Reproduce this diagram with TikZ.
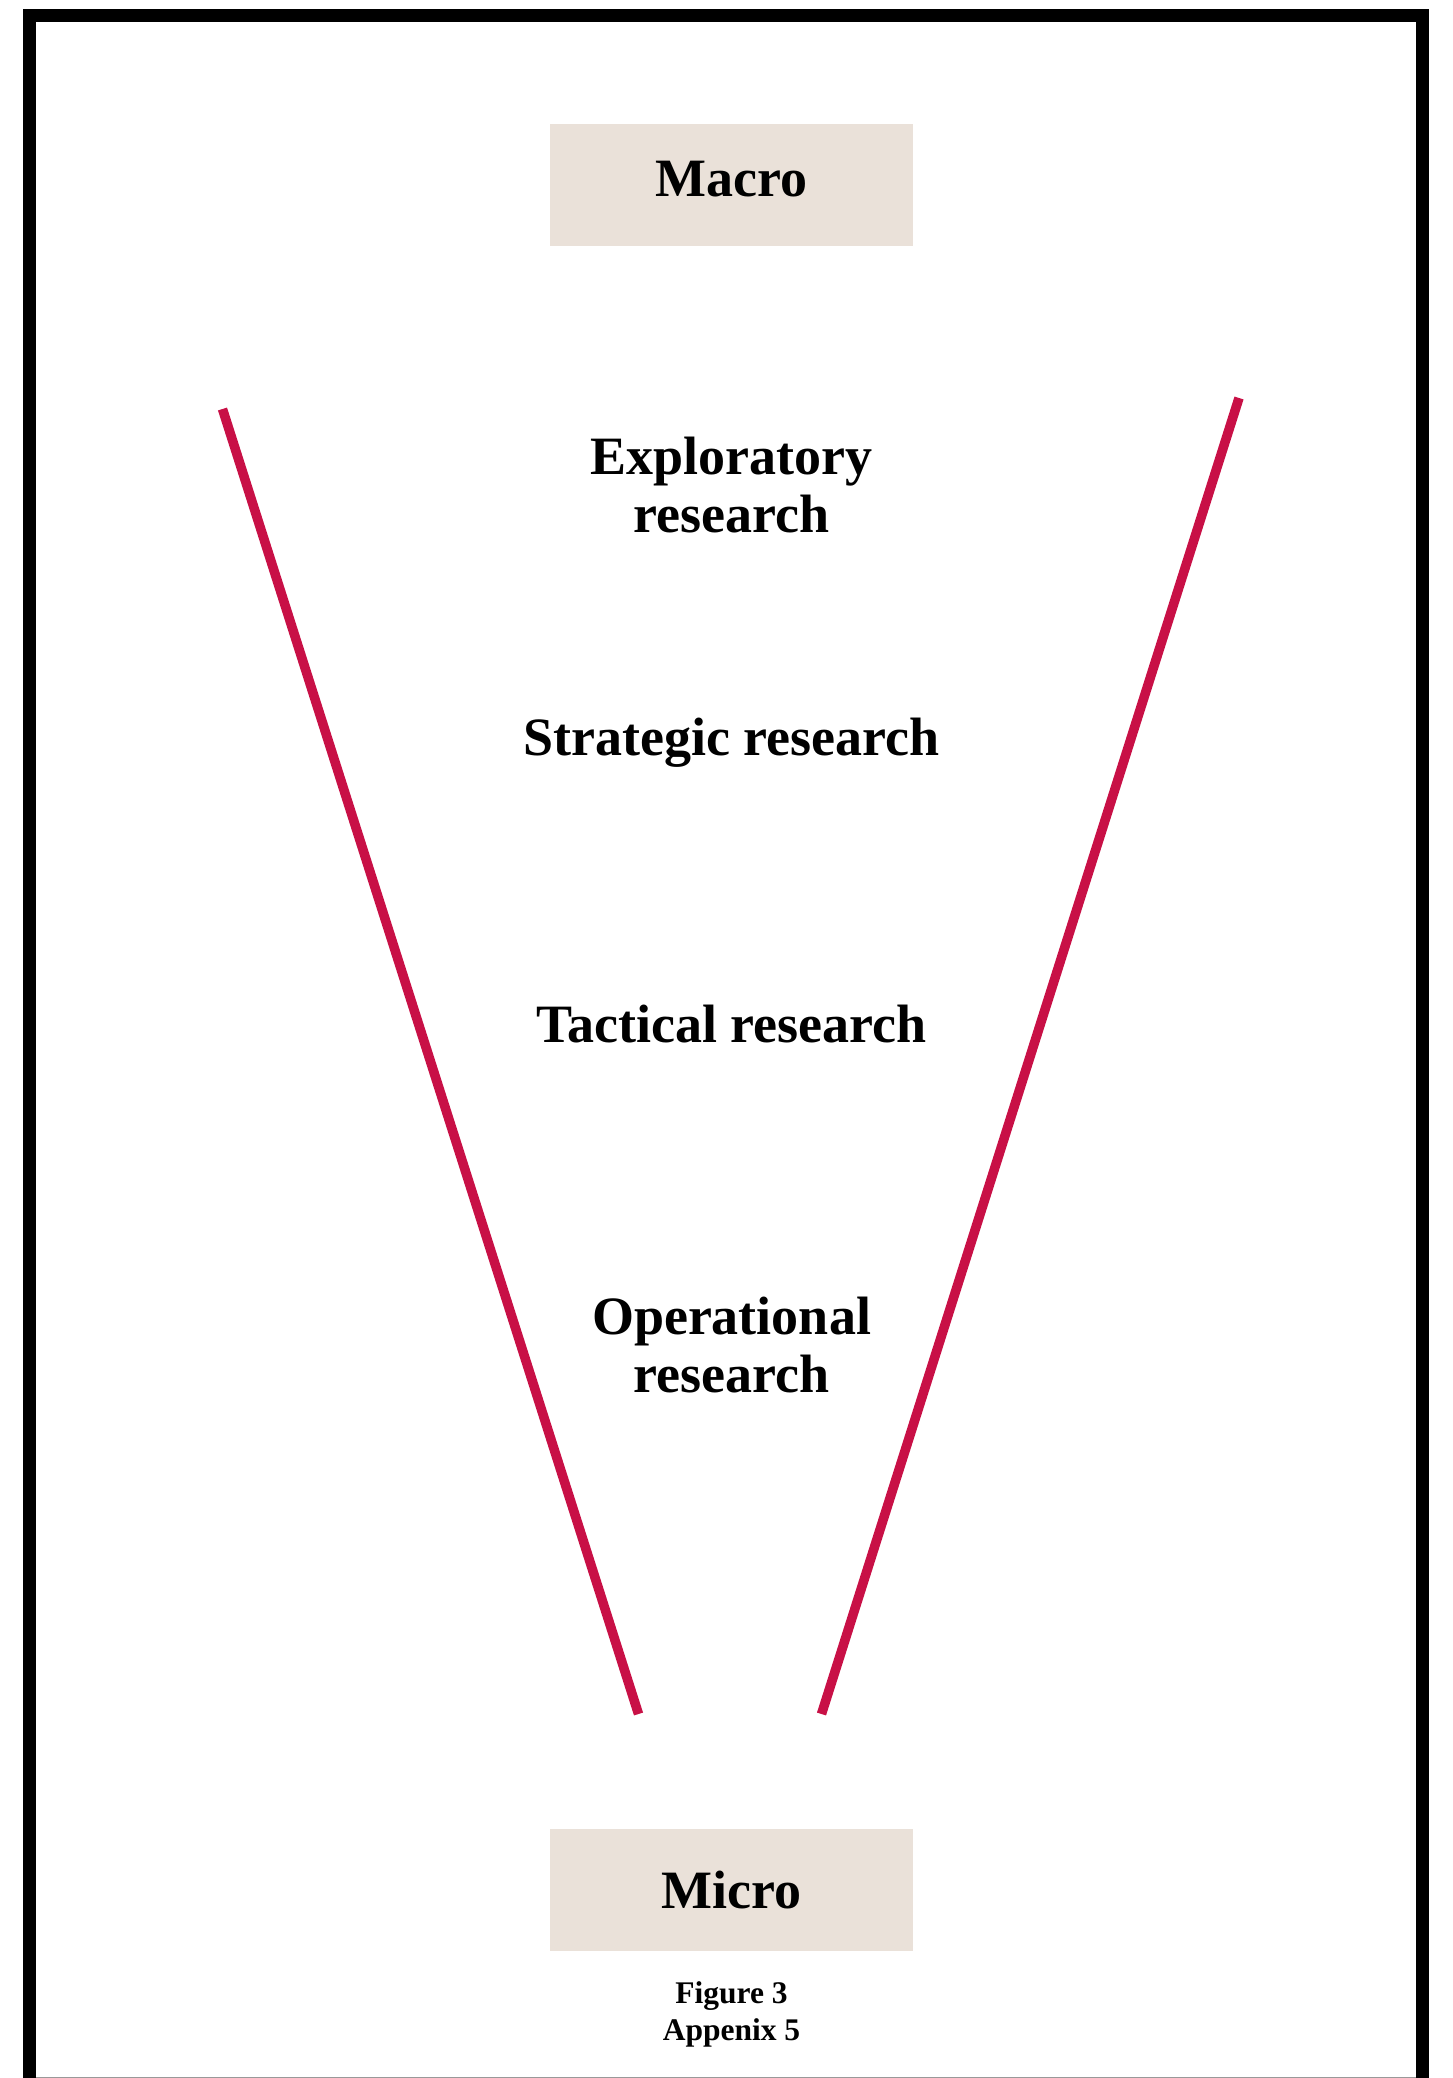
\documentclass[tikz,border=0pt]{standalone}
\usepackage{fontspec}
\setmainfont{Liberation Serif}
\definecolor{funnel}{RGB}{200,16,70}
\definecolor{boxfill}{RGB}{234,225,217}
\begin{document}
\begin{tikzpicture}[x=0.5pt,y=-0.5pt,
  levelbox/.style={fill=boxfill, minimum width=181.5pt, minimum height=61pt,
    inner sep=0pt, text height=20pt, text depth=8.5pt,
    font=\fontsize{27}{29}\selectfont\bfseries},
  level/.style={align=center, anchor=base, inner sep=0pt,
    font=\fontsize{27}{29}\selectfont\bfseries},
  funnelside/.style={draw=funnel, line width=4.75pt},
  caption/.style={align=center, anchor=base, inner sep=0pt,
    font=\fontsize{15.75}{18.5}\selectfont\bfseries}]
\useasboundingbox (0,0) rectangle (1452,2078);

% page frame: open at the bottom edge
\begin{scope}
  \clip (0,0) rectangle (1452,2078);
  \draw[line width=6.5pt] (29.5,2100) -- (29.5,15.5) -- (1422.5,15.5) -- (1422.5,2100);
\end{scope}
\draw[black!40, line width=0.75pt] (36,2077.4) -- (1416,2077.4);

% end boxes
\node[levelbox] (macro) at (731.5,184.5) {Macro};
\node[levelbox, text height=22pt, text depth=4pt] (micro) at (731.5,1890.3) {Micro};

% research levels (base anchor sits on the last line)
\node[level] (explor) at (731.5,532) {Exploratory\\research};
\node[level] (strat) at (731.5,755) {Strategic research};
\node[level] (tact) at (731.5,1042) {Tactical research};
\node[level] (oper) at (731.5,1392) {Operational\\research};

% funnel sides
\coordinate (ltop) at (222.5,409);
\coordinate (lbot) at (638.5,1714);
\coordinate (rtop) at (1239,398);
\coordinate (rbot) at (821.5,1714);
\draw[funnelside] (ltop) -- (lbot);
\draw[funnelside] (rtop) -- (rbot);

% caption
\node[caption] (cap) at (731.5,2040) {Figure 3\\Appenix 5};
\end{tikzpicture}
\end{document}
